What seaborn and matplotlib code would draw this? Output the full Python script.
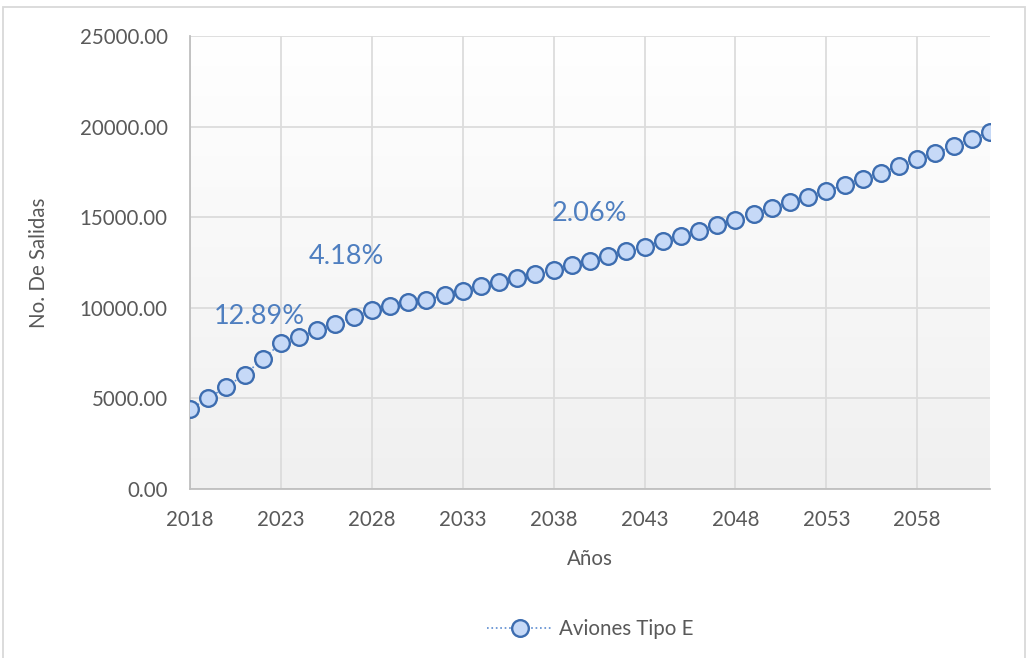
import numpy as np
import pandas as pd
import matplotlib
matplotlib.use("Agg")
import matplotlib.pyplot as plt
import seaborn as sns
from matplotlib.patches import Rectangle
from matplotlib.colors import LinearSegmentedColormap

years = list(range(2018, 2063))
salidas = [4400, 5007, 5647, 6310, 7176, 8043, 8374, 8760, 9091, 9494,
           9864, 10102, 10322, 10433, 10709, 10947, 11206, 11410, 11631, 11868,
           12089, 12383, 12602, 12878, 13138, 13375, 13706, 13982, 14258, 14573,
           14849, 15163, 15528, 15826, 16110, 16450, 16780, 17112, 17443, 17830,
           18200, 18530, 18934, 19320, 19706]
series_name = "Aviones Tipo E"
rate_labels = ["12.89%", "4.18%", "2.06%"]
rate_x = [2021.8, 2026.6, 2040.0]
rate_y = [9500, 12850, 15200]
x_ticks = list(range(2018, 2059, 5))
y_ticks = [0, 5000, 10000, 15000, 20000, 25000]

sns.set_theme(style="white")
plt.rcParams['font.family'] = ['Lato', 'DejaVu Sans']

df = pd.DataFrame({"Año": years, "Salidas": salidas})

fig = plt.figure(figsize=(10.31, 6.58), dpi=100)
ax = fig.add_axes([0.1843, 0.2568, 0.9602 - 0.1843, 0.9453 - 0.2568])

# outer chart border
fig.patches.append(Rectangle((3/1031, -0.1), 1022/1031, 1.1 - 7/658, transform=fig.transFigure,
                             fill=False, edgecolor="#d9d9d9", linewidth=1.3))

# gradient background
grad = np.linspace(1, 0, 256).reshape(-1, 1)
cm = LinearSegmentedColormap.from_list("g", ["#f0f0f0", "#ffffff"])
ax.imshow(grad, extent=[2018, 2062, 0, 25000], aspect="auto", cmap=cm, origin="upper",
          zorder=0, vmin=0, vmax=1)

sns.lineplot(data=df, x="Año", y="Salidas", ax=ax, marker="o", markersize=12,
             markerfacecolor="#c6d9f7", markeredgecolor="#3d6db0", markeredgewidth=1.7,
             color="#5b8bd0", linestyle=":", linewidth=1.2, label=series_name, zorder=3)

for t, xx, yy in zip(rate_labels, rate_x, rate_y):
    ax.text(xx, yy, t, color="#4f7fc0", fontsize=19.5, ha="center", va="center", zorder=4)

ax.set_xlim(2018, 2062)
ax.set_ylim(0, 25000)
ax.set_xticks(x_ticks)
ax.set_yticks(y_ticks)
ax.set_yticklabels([f"{v:.2f}" for v in y_ticks])
ax.tick_params(axis="both", length=0, labelsize=14.8, colors="#595959")
ax.tick_params(axis="y", pad=16)
ax.tick_params(axis="x", pad=15)
ax.grid(True, color="#dcdcdc", linewidth=1.3)
ax.set_axisbelow(True)
for s in ["top", "right"]:
    ax.spines[s].set_visible(False)
for s in ["left", "bottom"]:
    ax.spines[s].set_color("#bfbfbf")
    ax.spines[s].set_linewidth(1.3)

ax.set_xlabel("Años", fontsize=14.8, color="#595959", labelpad=14)
ax.set_ylabel("No. De Salidas", fontsize=14.8, color="#595959", labelpad=22)

leg = ax.legend(loc="center", bbox_to_anchor=(0.5, -0.31), frameon=False,
                fontsize=14.8, handlelength=3.2, handletextpad=0.3)
for t in leg.get_texts():
    t.set_color("#595959")

fig.savefig("out.png", dpi=100)
